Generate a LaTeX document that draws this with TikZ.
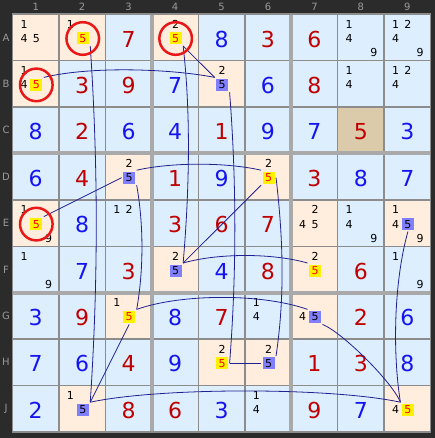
\documentclass[tikz,border=0pt]{standalone}
\usepackage{fontspec}
\setmainfont{DejaVu Sans}
\usetikzlibrary{calc}

\definecolor{bgdark}{HTML}{2B2B2B}
\definecolor{cellblue}{HTML}{DDEEFF}
\definecolor{cellpeach}{HTML}{FFEEDD}
\definecolor{celltan}{HTML}{DCCBAA}
\definecolor{gridgray}{HTML}{8C8C8C}
\definecolor{givenblue}{HTML}{1414F0}
\definecolor{solvedred}{HTML}{C00000}
\definecolor{linkblue}{HTML}{202090}
\definecolor{markblue}{HTML}{8080FF}
\definecolor{ringred}{HTML}{E81818}
\definecolor{headgray}{HTML}{9A9A9A}

\begin{document}
\begin{tikzpicture}[x=1pt,y=-1pt]
  %----- styles
  \tikzset{
    cell/.style    ={minimum width=46.45pt,minimum height=46.4pt,inner sep=0pt,outer sep=0pt,fill=cellblue},
    headtext/.style={font=\fontsize{10}{10}\selectfont,text=headgray,inner sep=0pt},
    given/.style   ={font=\fontsize{22}{22}\selectfont,text=givenblue,inner sep=0pt},
    solved/.style  ={font=\fontsize{22}{22}\selectfont,text=solvedred,inner sep=0pt},
    cand/.style    ={font=\fontsize{11}{11}\selectfont,inner sep=0pt},
    onbox/.style   ={cand,minimum width=12pt,minimum height=12pt,outer sep=1.5pt,fill=yellow,text=red},
    offbox/.style  ={cand,minimum width=12pt,minimum height=12pt,outer sep=1.5pt,fill=markblue},
    ring/.style    ={draw=ringred,line width=2.5pt},
    link/.style    ={draw=linkblue,line width=0.8pt},
    thinline/.style={draw=gridgray,line width=1.6pt},
    boxline/.style ={draw=gridgray!75!white,line width=4pt}
  }

  %----- background
  \useasboundingbox (0,0) rectangle (435,438);
  \fill[bgdark] (0,0) rectangle (435,438);

  %----- headers
  \foreach \c in {1,...,9}
    \node[headtext] (col\c) at ({12.5+(\c-0.5)*46.45},7) {\c};
  \foreach \r [count=\i] in {A,B,C,D,E,F,G,H,J}
    \node[headtext] (row\r) at (6,{14.3+(\i-0.5)*46.4}) {\r};

  %----- cells
  \foreach \r [count=\i] in {A,B,C,D,E,F,G,H,J}
    \foreach \c in {1,...,9}
      \node[cell] (\r\c) at ({12.5+(\c-0.5)*46.45},{14.3+(\i-0.5)*46.4}) {};
  \foreach \p in {A1,A2,A4,B1,B5,D3,D6,E1,E7,E9,F4,F7,G3,G7,H5,H6,J2,J9}
    \fill[cellpeach] (\p.north west) rectangle (\p.south east);
  \fill[celltan] (C8.north west) rectangle (C8.south east);

  %----- grid
  \foreach \k in {1,2,4,5,7,8} {
    \draw[thinline] ({12.5+\k*46.45},14.3) -- ({12.5+\k*46.45},431.9);
    \draw[thinline] (12.5,{14.3+\k*46.4}) -- (430.55,{14.3+\k*46.4});
  }
  \foreach \k in {3,6} {
    \draw[boxline] ({12.5+\k*46.45},14.3) -- ({12.5+\k*46.45},431.9);
    \draw[boxline] (12.5,{14.3+\k*46.4}) -- (430.55,{14.3+\k*46.4});
  }
  \draw[thinline] (12.5,14.3) rectangle (430.55,431.9);

  %----- digits
  \foreach \p/\d in {A5/8,B4/7,B6/6,C1/8,C3/6,C4/4,C6/9,C7/7,C9/3,D1/6,D5/9,D8/8,D9/7,
                     E2/8,F2/7,F5/4,G1/3,G4/8,G9/6,H1/7,H2/6,H4/9,H9/8,J1/2,J5/3,J8/7}
    \node[given] (\p v) at ($(\p)+(0,1.5)$) {\d};
  \foreach \p/\d in {A3/7,A6/3,A7/6,B2/3,B3/9,B7/8,C2/2,C5/1,C8/5,D2/4,D4/1,D7/3,E4/3,E5/6,
                     E6/7,F3/3,F6/8,F8/6,G2/9,G5/7,G8/2,H3/4,H7/1,H8/3,J3/8,J4/6,J7/9}
    \node[solved] (\p v) at ($(\p)+(0,1.5)$) {\d};

  %----- candidates
  \foreach \p/\cands in {A1/{1,4,5},A2/{1},A4/{2},A8/{1,4,9},A9/{1,2,4,9},B1/{1,4},B5/{2},
                         B8/{1,4},B9/{1,2,4},D3/{2},D6/{2},E1/{1,9},E3/{1,2},E7/{2,4,5},
                         E8/{1,4,9},E9/{1,4,9},F1/{1,9},F4/{2},F7/{2},F9/{1,9},G3/{1},
                         G6/{1,4},G7/{4},H5/{2},H6/{2},J2/{1},J6/{1,4},J9/{4}}
    \foreach \n in \cands {
      \pgfmathsetmacro\dx{11.5+12.3*mod(\n-1,3)}
      \pgfmathsetmacro\dy{10+14.2*int((\n-1)/3)}
      \node[cand] (\p c\n) at ($(\p.north west)+(\dx,\dy)$) {\n};
    }
  % marked fives
  \foreach \p in {A2,A4,B1,E1,D6,F7,G3,H5,J9}
    \node[onbox] (\p c5) at ($(\p.north west)+(23.8,24.2)$) {5};
  \foreach \p in {B5,D3,E9,F4,G7,H6,J2}
    \node[offbox] (\p c5) at ($(\p.north west)+(23.8,24.2)$) {5};

  %----- connections
  \draw[link] (A2c5.south east) .. controls +(8,120) and +(8,-120) .. (J2c5.north east);
  \draw[link] (B1c5.north east) .. controls +(50,-12) and +(-40,-8) .. (B5c5.north west);
  \draw[link] (A4c5.south east) -- (B5c5.north west);
  \draw[link] (A4c5.south east) .. controls +(8,70) and +(6,-70) .. (F4c5.north east);
  \draw[link] (B5c5.south east) .. controls +(7,90) and +(7,-90) .. (H5c5.east);
  \draw[link] (H5c5.east) -- (H6c5.west);
  \draw[link] (H6c5.north east) .. controls +(9,-60) and +(7,60) .. (D6c5.east);
  \draw[link] (D6c5.north west) .. controls +(-35,-8) and +(35,-8) .. (D3c5.north east);
  \draw[link] (D3c5.west) -- (E1c5.north east);
  \draw[link] (D3c5.south east) .. controls +(7,40) and +(7,-40) .. (G3c5.north east);
  \draw[link] (G3c5.north east) .. controls +(45,-16) and +(-45,-16) .. (G7c5.north west);
  \draw[link] (F4c5.north east) -- (D6c5.south west);
  \draw[link] (F4c5.north east) .. controls +(35,-10) and +(-35,-10) .. (F7c5.north west);
  \draw[link] (E9c5.south) .. controls +(-14,50) and +(-8,-50) .. (J9c5.north west);
  \draw[link] (G7c5.south east) .. controls +(20,8) and +(-8,-20) .. (J9c5.north west);
  \draw[link] (G3c5.south) -- (J2c5.north east);
  \draw[link] (J2c5.north east) .. controls +(70,-15) and +(-70,-15) .. (J9c5.north west);

  %----- rings
  \foreach \p in {A2,A4,B1,E1}
    \draw[ring] (\p c5) circle[radius=16.3];

\end{tikzpicture}
\end{document}
